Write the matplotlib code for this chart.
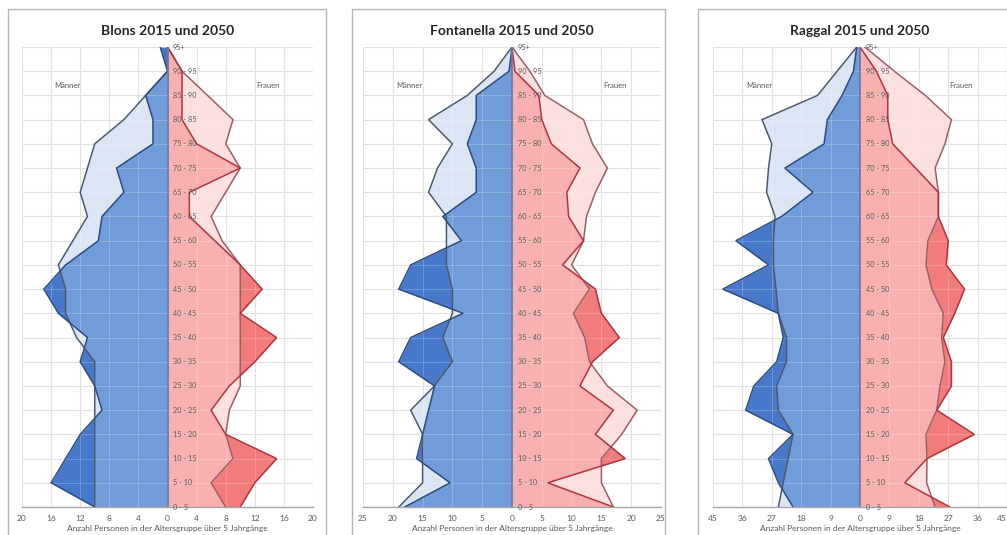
import numpy as np
import matplotlib
matplotlib.use("Agg")
import matplotlib.pyplot as plt
from matplotlib.patches import Rectangle

# ---------------- data ----------------
age_groups = ["0 - 5", "5 - 10", "10 - 15", "15 - 20", "20 - 25", "25 - 30", "30 - 35",
              "35 - 40", "40 - 45", "45 - 50", "50 - 55", "55 - 60", "60 - 65", "65 - 70",
              "70 - 75", "75 - 80", "80 - 85", "85 - 90", "90 - 95", "95+"]

titles = ["Blons 2015 und 2050", "Fontanella 2015 und 2050", "Raggal 2015 und 2050"]

blons_m_2015 = [10, 16, 14, 12, 9, 10, 12, 11, 15, 17, 14, 9.5, 9, 6, 7, 2, 2, 3, 0, 1]
blons_m_2050 = [10, 10, 10, 10, 10, 10, 10, 12.5, 14, 14, 15, 13, 11, 12, 11, 10, 6, 3, 0, 0]
blons_f_2015 = [10, 12, 15, 8, 6, 8.5, 12, 15, 10, 13, 10, 6.5, 3, 3, 10, 4, 2, 2, 2, 0]
blons_f_2050 = [8, 6, 9, 8, 8.5, 10, 10, 10, 10, 10, 10, 7.5, 6, 8, 10, 8, 9, 5.5, 2, 0]

fontanella_m_2015 = [18, 10.4, 16, 15, 14, 13, 19, 17, 8.2, 19, 17, 8.5, 11.6, 6, 6, 7.5, 6, 6, 0.5, 0]
fontanella_m_2050 = [19, 15, 15, 15, 17, 13, 10, 11.6, 10, 10, 11, 11, 11, 14, 12.5, 10, 14, 7.5, 3, 0]
fontanella_f_2015 = [17, 6, 19, 14, 17, 11.4, 13.5, 18, 15, 14, 8.5, 12, 9.5, 9.2, 11.4, 6.6, 5, 4.5, 0.5, 0]
fontanella_f_2050 = [17, 15, 15, 18.4, 21, 16, 13, 12.2, 10.3, 13, 10, 12, 12.5, 14, 16, 13.5, 12, 5.5, 3, 0]

raggal_m_2015 = [20.5, 25, 28, 20.5, 35, 32.5, 25.5, 23.5, 25, 42, 28, 38, 24, 14.4, 23, 11, 10, 5.5, 2, 1]
raggal_m_2050 = [25, 23.5, 22, 20.5, 25, 25.5, 22.5, 22.5, 25, 25.7, 26.5, 26.5, 26, 28.6, 28, 27, 30, 13, 7, 1]
raggal_f_2015 = [27.5, 13.7, 20.5, 35, 23.5, 28, 28, 25.5, 29, 32, 26.4, 27, 24, 24, 17, 10, 8.5, 8.5, 5, 0]
raggal_f_2050 = [23, 20.4, 20.5, 20.2, 23.5, 24.5, 26, 25, 25.5, 22, 20.2, 20.8, 24, 24, 23, 26, 28, 20, 10.5, 1.5]

blons_ticks = [-20, -16, -12, -8, -4, 0, 4, 8, 12, 16, 20]
fontanella_ticks = [-25, -20, -15, -10, -5, 0, 5, 10, 15, 20, 25]
raggal_ticks = [-45, -36, -27, -18, -9, 0, 9, 18, 27, 36, 45]

x_label = "Anzahl Personen in der Altersgruppe über 5 Jahrgänge"
men_label = "Männer"
women_label = "Frauen"

# ---------------- styling ----------------
W, H = 1007, 535
fig = plt.figure(figsize=(W / 100, H / 100), dpi=100)
fig.patch.set_facecolor("white")

FONT = ["Lato", "DejaVu Sans"]
TXT = "#595959"

blue_dark, blue_mid, blue_light = "#4778c9", "#709dda", "#dbe5f3"
blue_e15, blue_e50 = "#2f4c7e", "#4b5a70"
red_dark, red_mid, red_light = "#f27b7b", "#f8b0b0", "#fcdfdf"
red_e15, red_e50 = "#b3343c", "#9c5f68"

# panel geometry in pixels: (plot left, plot right, frame left, frame right)
geo = [(22, 313, 8, 326), (363, 661, 352, 665), (713, 1007, 698, 1020)]
plot_top, plot_bottom = 47, 507

series = [
    (blons_m_2015, blons_m_2050, blons_f_2015, blons_f_2050, blons_ticks),
    (fontanella_m_2015, fontanella_m_2050, fontanella_f_2015, fontanella_f_2050, fontanella_ticks),
    (raggal_m_2015, raggal_m_2050, raggal_f_2015, raggal_f_2050, raggal_ticks),
]

y = np.arange(len(age_groups))

for k, ((m15, m50, f15, f50, ticks), title) in enumerate(zip(series, titles)):
    pl, pr, fl, fr = geo[k]
    # chart frame
    fig.patches.append(Rectangle((fl / W, -0.05), (fr - fl) / W, 1.05 - 9 / H,
                                 transform=fig.transFigure, fill=False,
                                 edgecolor="#b4b4b4", lw=1.0, zorder=0))
    ax = fig.add_axes([pl / W, 1 - plot_bottom / H, (pr - pl) / W, (plot_bottom - plot_top) / H])
    lim = ticks[-1]
    ax.set_xlim(-lim, lim)
    ax.set_ylim(0, len(age_groups) - 1)
    ax.set_facecolor("none")

    m15a, m50a = -np.asarray(m15, float), -np.asarray(m50, float)
    f15a, f50a = np.asarray(f15, float), np.asarray(f50, float)

    for a15, a50, cd, cm, cl, e15, e50 in [
        (m15a, m50a, blue_dark, blue_mid, blue_light, blue_e15, blue_e50),
        (f15a, f50a, red_dark, red_mid, red_light, red_e15, red_e50),
    ]:
        pa = ax.fill_betweenx(y, 0, a15, color=cd, lw=0, zorder=2)
        ax.fill_betweenx(y, 0, a50, color=cl, lw=0, zorder=2.1)
        pm = ax.fill_betweenx(y, 0, a50, color=cm, lw=0, zorder=2.2)
        pm.set_clip_path(pa.get_paths()[0], ax.transData)
        ax.plot(a50, y, color=e50, lw=1.1, zorder=3, solid_joinstyle="miter")
        ax.plot(a15, y, color=e15, lw=1.1, zorder=3.1, solid_joinstyle="miter")

    ax.plot([0, 0], [0, len(age_groups) - 1], color="#6b79a8", lw=1.3, zorder=3.2)

    # grid (below) and faint grid over the fills
    ax.set_xticks(ticks)
    ax.set_xticklabels([str(abs(t)) for t in ticks])
    ax.set_yticks(y)
    ax.set_yticklabels([])
    ax.grid(True, color="#d9d9d9", lw=0.8)
    ax.set_axisbelow(True)
    for t in ticks:
        ax.axvline(t, color="#ffffff", lw=0.6, alpha=0.25, zorder=2.5)
    for yy in y:
        ax.axhline(yy, color="#ffffff", lw=0.6, alpha=0.25, zorder=2.5)

    for s in ("top", "left", "right"):
        ax.spines[s].set_visible(False)
    ax.spines["bottom"].set_color("#a6a6a6")
    ax.spines["bottom"].set_linewidth(1.0)
    ax.spines["bottom"].set_zorder(4)
    ax.tick_params(axis="both", length=0, labelsize=6, labelcolor=TXT)
    ax.tick_params(axis="x", pad=6)
    for lab in ax.get_xticklabels():
        lab.set_family(FONT)
    if pr >= W:
        ax.get_xticklabels()[-1].set_ha("right")
    ax.set_xlabel(x_label, fontsize=6, color=TXT, family=FONT, labelpad=2)

    # category labels in the middle
    for yy, g in zip(y, age_groups):
        ax.annotate(g, xy=(0, yy), xytext=(4, 0), textcoords="offset points",
                    ha="left", va="center", fontsize=5.2, color=TXT,
                    family=FONT, zorder=6, annotation_clip=False)

    ax.text(0.156, 0.917, men_label, transform=ax.transAxes, ha="center", va="center",
            fontsize=5.5, color=TXT, family=FONT)
    ax.text(0.845, 0.917, women_label, transform=ax.transAxes, ha="center", va="center",
            fontsize=5.5, color=TXT, family=FONT)

    cx = (pl + pr) / 2
    fig.text(cx / W, 1 - 31 / H, title, ha="center", va="center", fontsize=10,
             fontweight="bold", color="#262626", family=FONT)

fig.savefig("out.png", dpi=100)
